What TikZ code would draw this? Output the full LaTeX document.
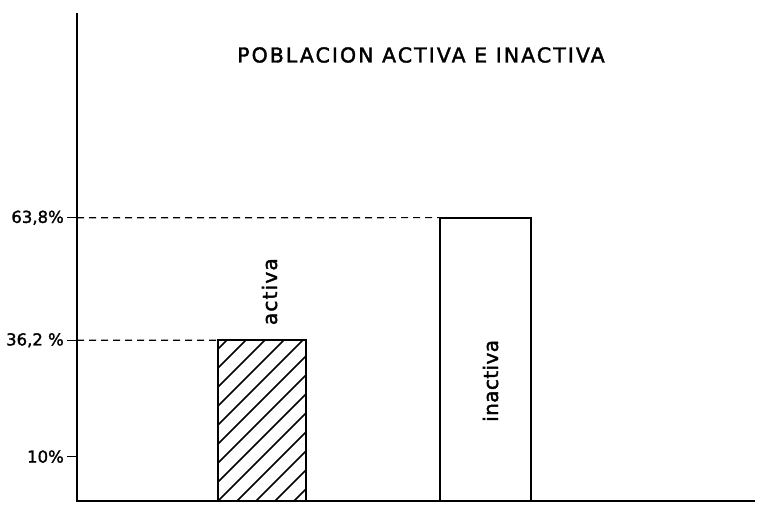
\documentclass[tikz,border=0pt]{standalone}
\usepackage{fontspec}
\setmainfont{DejaVu Sans}
\usetikzlibrary{positioning}
\tikzset{
  barra/.style={draw, line width=2.2pt, anchor=south west, inner sep=0pt, outer sep=0pt},
  guia/.style={line width=1.1pt, dash pattern=on 7pt off 5pt},
  cifra/.style={inner sep=0pt, font=\fontsize{16.5}{17}\selectfont\addfontfeature{FakeBold=1.6}},
  rotulo/.style={rotate=90, anchor=base west, inner sep=0pt,
    font=\fontsize{20}{20}\selectfont\addfontfeature{LetterSpace=#1,FakeBold=1.8}},
}

\begin{document}
\begin{tikzpicture}[x=1pt,y=1pt]
  \useasboundingbox (0,0) rectangle (757,511);
  % ejes
  \coordinate (O) at (77,10);
  \coordinate (arriba) at (77,498);
  \coordinate (fin) at (755,10);
  \draw[line width=2.6pt] (arriba) -- (O) -- (fin);

  % titulo
  \node[font=\fontsize{20.5}{21}\selectfont\addfontfeature{LetterSpace=10,FakeBold=1.8}] (titulo) at (421,456)
    {POBLACION ACTIVA E INACTIVA};

  % barras
  \node[barra, minimum width=88pt, minimum height=160.7pt] (activa) at (218,10) {};
  \node[barra, minimum width=91pt, minimum height=283.3pt] (inactiva) at (440,10) {};
  \begin{scope}
    \clip (activa.south west) rectangle (activa.north east);
    \foreach \s in {-171,-152,...,88}
      \draw[line width=1.5pt] ({218+\s},10) -- ++(200,200);
  \end{scope}
  \node[barra, minimum width=88pt, minimum height=160.7pt] at (218,10) {};

  % marcas del eje
  \foreach \p/\txt/\n in {10/10\%/a, 36.2/{36,2 \%}/b, 63.8/{63,8\%}/c}{
    \coordinate (m\n) at (77,{10+4.44*\p});
    \draw[line width=1.5pt] (m\n) -- ++(-10,0) coordinate (t\n);
    \node[cifra, left=3pt of t\n] (e\n) {\txt};
  }
  \draw[guia] (mb) -- (activa.north west);
  \draw[guia] (mc) -- (inactiva.north west);

  % rotulos
  \node[rotulo=6] (ra) at ([xshift=15pt, yshift=15pt]activa.north) {activa};
  \node[rotulo=2] (ri) at (498,89) {inactiva};
\end{tikzpicture}
\end{document}
